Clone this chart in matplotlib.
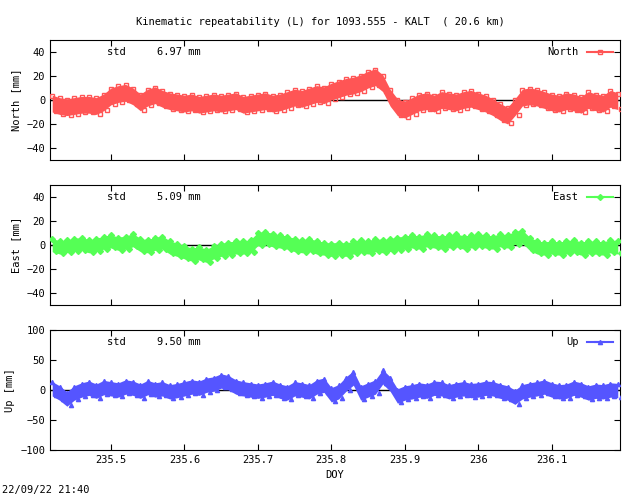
import numpy as np
import matplotlib
matplotlib.use("Agg")
import matplotlib.pyplot as plt

doy_start = 235.42
doy_step = 0.01
north = [-3,-5,-6,-5,-4,-4,-5,-2,
         3,5,6,3,-2,2,4,1,-1,-2,
         -3,-2,-4,-3,-2,-3,-2,-1,-4,-3,
         -2,-1,-3,-2,0,2,1,3,5,4,
         7,9,11,12,14,17,19,14,2,-6,
         -8,-5,-2,-1,-3,0,-1,-2,0,1,
         -1,-3,-6,-10,-13,-6,2,3,2,0,
         -2,-3,-1,-2,-4,0,-2,-3,1,-1]
east = [0,-2,-1,0,1,-1,0,2,
        3,1,2,4,0,-1,1,2,-2,-4,
        -6,-8,-7,-9,-6,-4,-3,-2,-2,-1,
        5,6,4,3,2,0,-1,0,-2,-3,
        -4,-3,-4,-2,-1,-2,0,-1,0,1,
        2,3,2,4,3,2,3,4,2,3,
        4,3,2,4,3,6,7,1,-2,-3,
        -2,-3,-2,-1,-3,-2,-2,-3,-1,-2]
up = [2,-5,-15,-5,0,3,-2,4,
      2,0,5,3,-2,4,0,2,-3,-1,
      2,5,3,8,10,15,12,5,2,0,
      -2,0,3,-2,-5,2,0,-3,5,8,
      -8,-3,10,20,-5,0,5,22,10,-10,
      -5,-3,0,-2,3,2,-3,0,2,-1,
      0,3,2,-2,-5,-12,-3,0,2,5,
      0,-3,-2,3,0,-5,-2,-3,0,-1]
north_spread = 7
east_spread = 5.5
up_spread = 12
stds = ["6.97", "5.09", "9.50"]
names = ["North", "East", "Up"]
ylabels = ["North [mm]", "East [mm]", "Up [mm]"]
colors = ["#ff5555", "#55ff55", "#5555ff"]
markers = ["s", "D", "^"]
ylims = [(-50, 50), (-50, 50), (-100, 100)]
yticks = [[-40,-20,0,20,40], [-40,-20,0,20,40], [-100,-50,0,50,100]]
xticks = [235.5, 235.6, 235.7, 235.8, 235.9, 236, 236.1]
xticklabels = ["235.5", "235.6", "235.7", "235.8", "235.9", "236", "236.1"]

plt.rcParams["font.family"] = "DejaVu Sans Mono"
plt.rcParams["font.size"] = 7.5
fig = plt.figure(figsize=(6.4, 4.96), dpi=100)
x = doy_start + doy_step * np.arange(len(north))
series = [north, east, up]
spreads = [north_spread, east_spread, up_spread]
tops = [40, 185, 330]
for i in range(3):
    ax = fig.add_axes([50/640, 1 - (tops[i] + 120)/496, 570/640, 120/496])
    y = np.array(series[i], float)
    ax.axhline(0, color="black", lw=1, zorder=1)
    ax.fill_between(x, y - spreads[i], y + spreads[i], color=colors[i], lw=0, zorder=2)
    mfc = "none" if markers[i] == "s" else colors[i]
    ax.plot(x, y + spreads[i]*0.9, ls="none", marker=markers[i], ms=3, mfc=mfc, mec=colors[i], zorder=3)
    ax.plot(x + 0.005, y - spreads[i]*0.9, ls="none", marker=markers[i], ms=3, mfc=mfc, mec=colors[i], zorder=3)
    ax.errorbar([], [], xerr=[], color=colors[i], marker=markers[i], ms=3, mfc=mfc, label=names[i], capsize=3)
    ax.set_xlim(235.417, 236.193)
    ax.set_ylim(*ylims[i])
    ax.set_yticks(yticks[i])
    ax.set_xticks(xticks)
    ax.set_xticklabels(xticklabels if i == 2 else [])
    ax.tick_params(direction="in", top=True, right=True, length=4)
    ax.set_ylabel(ylabels[i])
    ax.text(0.1, 0.9, "std     %s mm" % stds[i], transform=ax.transAxes, va="center")
    ax.legend(loc="upper right", frameon=False, markerfirst=False, handlelength=2.5, borderaxespad=0.3)
    if i == 2:
        ax.set_xlabel("DOY")
fig.text(0.5, 1 - 22/496, "Kinematic repeatability (L) for 1093.555 - KALT  ( 20.6 km)", ha="center", va="center")
fig.text(2/640, 1 - 490/496, "22/09/22 21:40", ha="left", va="center")
fig.savefig("out.png", dpi=100)
